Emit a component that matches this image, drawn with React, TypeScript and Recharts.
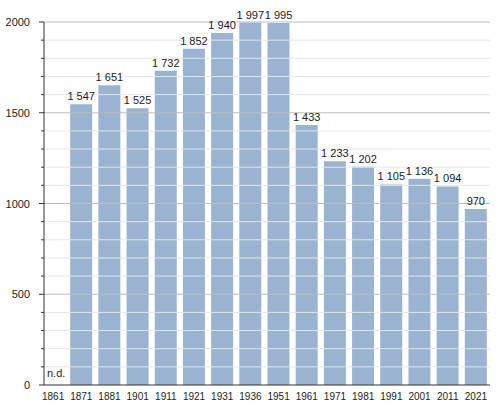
import { BarChart, Bar, XAxis, YAxis, LabelList, ReferenceLine, ReferenceArea } from 'recharts';

const years = ['1861', '1871', '1881', '1901', '1911', '1921', '1931', '1936', '1951', '1961', '1971', '1981', '1991', '2001', '2011', '2021'];
const population = [null, 1547, 1651, 1525, 1732, 1852, 1940, 1997, 1995, 1433, 1233, 1202, 1105, 1136, 1094, 970];

const yTicks = [0, 100, 200, 300, 400, 500, 600, 700, 800, 900, 1000, 1100, 1200, 1300, 1400, 1500, 1600, 1700, 1800, 1900, 2000];
const majorTicks = [0, 500, 1000, 1500, 2000];

const data = years.map((year, i) => ({ year, value: population[i] }));

// non-breaking space so the label does not wrap
const fmt = (v: any) => (v == null ? '' : String(v).replace(/\B(?=(\d{3})+(?!\d))/g, '\u00a0'));

const YTick = (props: any) => {
  const { x, y, payload } = props;
  const major = majorTicks.includes(payload.value);
  return (
    <g>
      <line x1={x - (major ? 5 : 3)} x2={x} y1={y} y2={y} stroke="#333" strokeWidth={1} />
      {major && (
        <text x={x - 14} y={y} dy={4} textAnchor="end" fontSize={11} fill="#222">
          {payload.value}
        </text>
      )}
    </g>
  );
};

export default function App() {
  return (
    <div style={{ position: 'absolute', left: 0, top: 0, background: '#fff' }}>
      <BarChart
        width={500}
        height={410}
        data={data}
        margin={{ top: 22, right: 10, bottom: 5, left: 10 }}
        barCategoryGap={3}
        style={{ fontFamily: '"Liberation Sans", Arial, sans-serif' }}
      >
        {yTicks.filter((t) => !majorTicks.includes(t)).map((t) => (
          <ReferenceLine key={'m' + t} y={t} stroke="#e6e6e6" strokeWidth={1} />
        ))}
        {majorTicks.filter((t) => t > 0).map((t) => (
          <ReferenceLine key={'M' + t} y={t} stroke="#bdbdbd" strokeWidth={1} />
        ))}
        <XAxis
          dataKey="year"
          interval={0}
          tickLine={false}
          axisLine={{ stroke: '#333' }}
          tick={{ fontSize: 10, fill: '#222' }}
          height={20}
          tickMargin={2}
          padding={{ left: -5, right: 0 }}
        />
        <YAxis
          width={34}
          domain={[0, 2000]}
          ticks={yTicks}
          interval={0}
          tickLine={false}
          tickSize={0}
          tickMargin={0}
          axisLine={{ stroke: '#333' }}
          tick={<YTick />}
        />
        <ReferenceArea
          x1="1861"
          x2="1861"
          fill="none"
          stroke="none"
          label={{ value: 'n.d.', position: 'insideBottomLeft', fontSize: 11, fill: '#222', offset: 8 }}
        />
        <Bar dataKey="value" fill="#99b3d0" isAnimationActive={false}>
          <LabelList dataKey="value" position="top" offset={4} formatter={fmt} fontSize={11} fill="#222" />
        </Bar>
      </BarChart>
    </div>
  );
}
